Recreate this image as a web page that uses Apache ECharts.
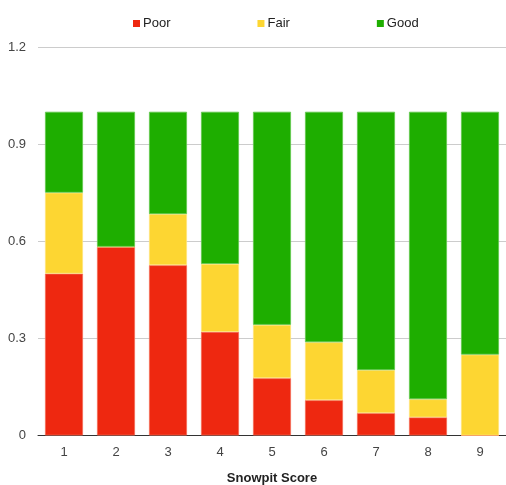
<!DOCTYPE html>
<html>
<head>
<meta charset="utf-8">
<script src="https://cdn.jsdelivr.net/npm/echarts@6/dist/echarts.min.js"></script>
<style>
  html, body { margin: 0; padding: 0; background: #fff; overflow: hidden; }
  #chart { width: 506px; height: 485px; }
</style>
</head>
<body>
<div id="chart"></div>
<script>
// Share of snowpit results by score
const scores = ['1', '2', '3', '4', '5', '6', '7', '8', '9'];
const poor = [0.5, 0.583, 0.526, 0.32, 0.177, 0.109, 0.069, 0.056, 0];
const fair = [0.25, 0, 0.158, 0.21, 0.165, 0.179, 0.133, 0.056, 0.25];
const good = [0.25, 0.417, 0.316, 0.47, 0.658, 0.712, 0.798, 0.888, 0.75];
const yTicks = { min: 0, max: 1.2, interval: 0.3 };

const colors = { Poor: '#EE2810', Fair: '#FDD632', Good: '#1EAE00' };
const borders = { Poor: '#F46A55', Fair: '#FEE37A', Good: '#62C84D' };

const font = 'Arial, "Liberation Sans", sans-serif';

function barSeries(name, values) {
  return {
    name: name,
    type: 'bar',
    stack: 'total',
    barWidth: 38,
    data: values,
    itemStyle: { color: colors[name], borderColor: borders[name], borderWidth: 0.8 },
    emphasis: { disabled: true }
  };
}

const chart = echarts.init(document.getElementById('chart'), null, {
  renderer: 'canvas', width: 506, height: 485
});
chart.setOption({
  animation: false,
  textStyle: { fontFamily: font },
  legend: {
    top: 12,
    left: 128,
    itemWidth: 7,
    itemHeight: 7,
    itemGap: 87,
    icon: 'rect',
    itemStyle: { borderWidth: 0 },
    textStyle: { fontSize: 13, color: '#222', fontFamily: font, padding: [0, 0, 0, -2] },
    data: ['Poor', 'Fair', 'Good']
  },
  grid: {
    left: 38, right: 0, top: 47, bottom: 49.5,
    containLabel: false,
    outerBoundsMode: 'none'
  },
  xAxis: {
    type: 'category',
    data: scores,
    name: 'Snowpit Score',
    nameLocation: 'middle',
    nameGap: 36,
    nameTextStyle: { fontWeight: 'bold', fontSize: 13, color: '#222', fontFamily: font },
    axisLine: { lineStyle: { color: '#333', width: 1 } },
    axisTick: { show: false },
    axisLabel: { fontSize: 13, color: '#444', margin: 10, fontFamily: font }
  },
  yAxis: {
    type: 'value',
    min: yTicks.min,
    max: yTicks.max,
    interval: yTicks.interval,
    axisLine: { show: false },
    axisTick: { show: false },
    axisLabel: { fontSize: 13, color: '#444', margin: 12, fontFamily: font },
    splitLine: { lineStyle: { color: '#cccccc', width: 1 } }
  },
  series: [
    barSeries('Poor', poor),
    barSeries('Fair', fair),
    barSeries('Good', good)
  ]
});
</script>
</body>
</html>
